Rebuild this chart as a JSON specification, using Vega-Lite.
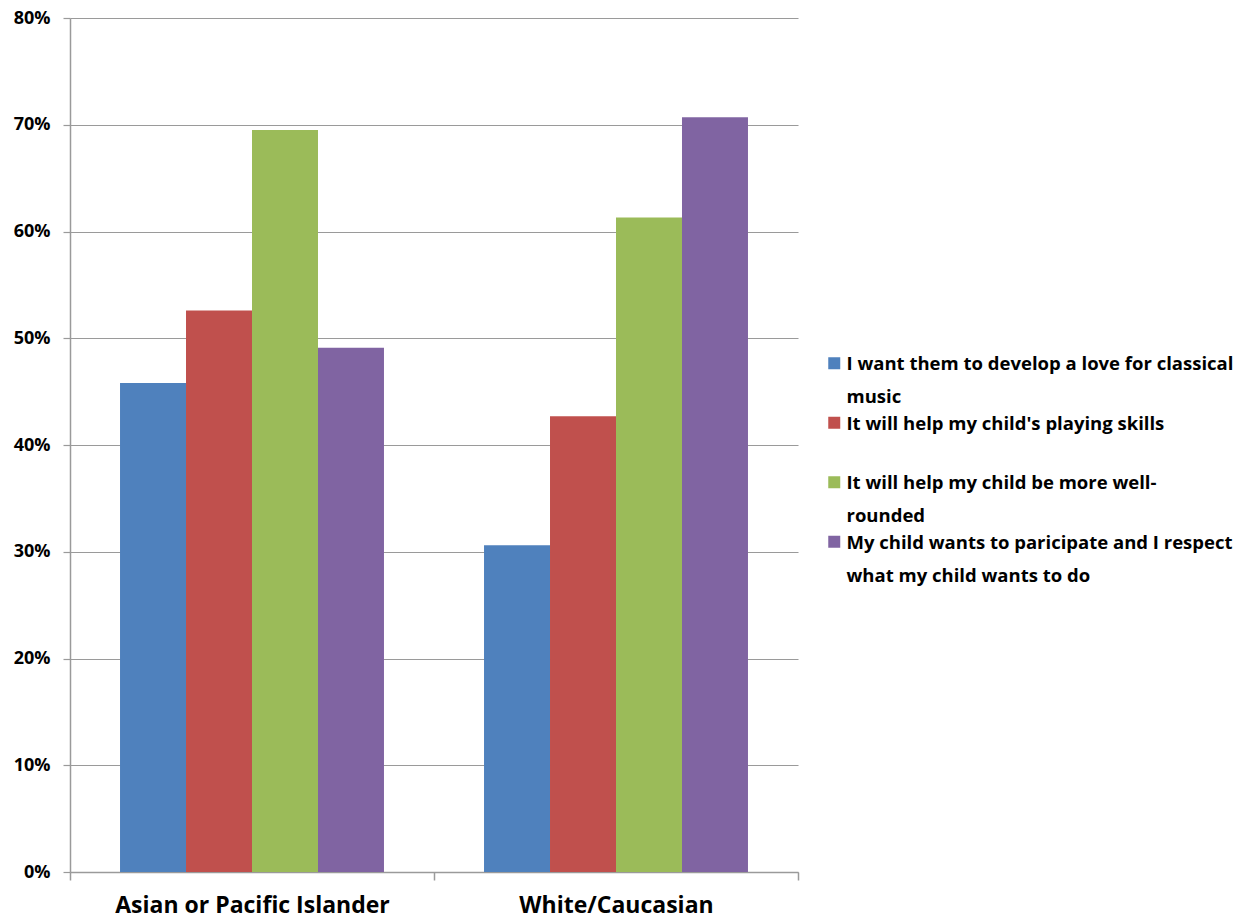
{
  "$schema": "https://vega.github.io/schema/vega-lite/v6.json",
  "width": 728,
  "height": 854,
  "autosize": {"type": "none"},
  "padding": {"left": 70, "top": 18, "right": 444, "bottom": 48},
  "background": "white",
  "config": {"view": {"stroke": null}, "font": "Open Sans"},
  "data": {
    "values": [
      {"group": "Asian or Pacific Islander", "reason": "I want them to develop a love for classical music", "value": 0.458},
      {"group": "Asian or Pacific Islander", "reason": "It will help my child's playing skills", "value": 0.526},
      {"group": "Asian or Pacific Islander", "reason": "It will help my child be more well-rounded", "value": 0.695},
      {"group": "Asian or Pacific Islander", "reason": "My child wants to paricipate and I respect what my child wants to do", "value": 0.491},
      {"group": "White/Caucasian", "reason": "I want them to develop a love for classical music", "value": 0.306},
      {"group": "White/Caucasian", "reason": "It will help my child's playing skills", "value": 0.427},
      {"group": "White/Caucasian", "reason": "It will help my child be more well-rounded", "value": 0.613},
      {"group": "White/Caucasian", "reason": "My child wants to paricipate and I respect what my child wants to do", "value": 0.707}
    ]
  },
  "mark": {"type": "bar"},
  "encoding": {
    "x": {
      "field": "group", "type": "nominal", "sort": null,
      "scale": {"paddingInner": 0, "paddingOuter": 0},
      "axis": {
        "title": null, "labelAngle": 0, "tickBand": "extent", "grid": false, "labelLimit": 0,
        "labelFont": "Open Sans", "labelFontSize": 23, "labelFontWeight": "bold", "labelColor": "black",
        "tickSize": 8, "tickColor": "#9a9a9a", "domainColor": "#9a9a9a", "domainWidth": 1.5, "tickWidth": 1.5,
        "labelPadding": 14
      }
    },
    "xOffset": {
      "field": "reason", "type": "nominal", "sort": null,
      "scale": {"paddingInner": 0, "paddingOuter": 0.758}
    },
    "y": {
      "field": "value", "type": "quantitative",
      "scale": {"domain": [0, 0.8], "nice": false},
      "axis": {
        "title": null, "format": ".0%", "values": [0, 0.1, 0.2, 0.3, 0.4, 0.5, 0.6, 0.7, 0.8],
        "grid": true, "gridColor": "#9a9a9a", "gridWidth": 1.2,
        "labelFont": "Open Sans", "labelFontSize": 18, "labelFontWeight": "bold", "labelColor": "black",
        "tickSize": 7, "tickColor": "#9a9a9a", "domainColor": "#9a9a9a", "domainWidth": 1.5, "tickWidth": 1.2,
        "labelPadding": 13
      }
    },
    "color": {
      "field": "reason", "type": "nominal", "sort": null,
      "scale": {
        "domain": [
          "I want them to develop a love for classical music",
          "It will help my child's playing skills",
          "It will help my child be more well-rounded",
          "My child wants to paricipate and I respect what my child wants to do"
        ],
        "range": ["#4F81BD", "#C0504D", "#9BBB59", "#8064A2"]
      },
      "legend": {
        "title": null, "orient": "none", "legendX": 755, "legendY": 336, "padding": 0,
        "symbolType": "square", "symbolSize": 144, "symbolStrokeWidth": 0,
        "labelFont": "Open Sans", "labelFontSize": 18.5, "labelFontWeight": "bold", "labelColor": "black",
        "labelLimit": 0, "labelOffset": 3, "rowPadding": 6.5, "labelBaseline": "alphabetic",
        "labelExpr": "datum.label == 'I want them to develop a love for classical music' ? ['I want them to develop a love for classical', 'music'] : datum.label == 'It will help my child be more well-rounded' ? ['It will help my child be more well-', 'rounded'] : datum.label == 'My child wants to paricipate and I respect what my child wants to do' ? ['My child wants to paricipate and I respect', 'what my child wants to do'] : [datum.label, ' ']",
        "encode": {"labels": {"update": {"lineHeight": {"value": 33}, "dy": {"value": 7}}}}
      }
    }
  }
}
